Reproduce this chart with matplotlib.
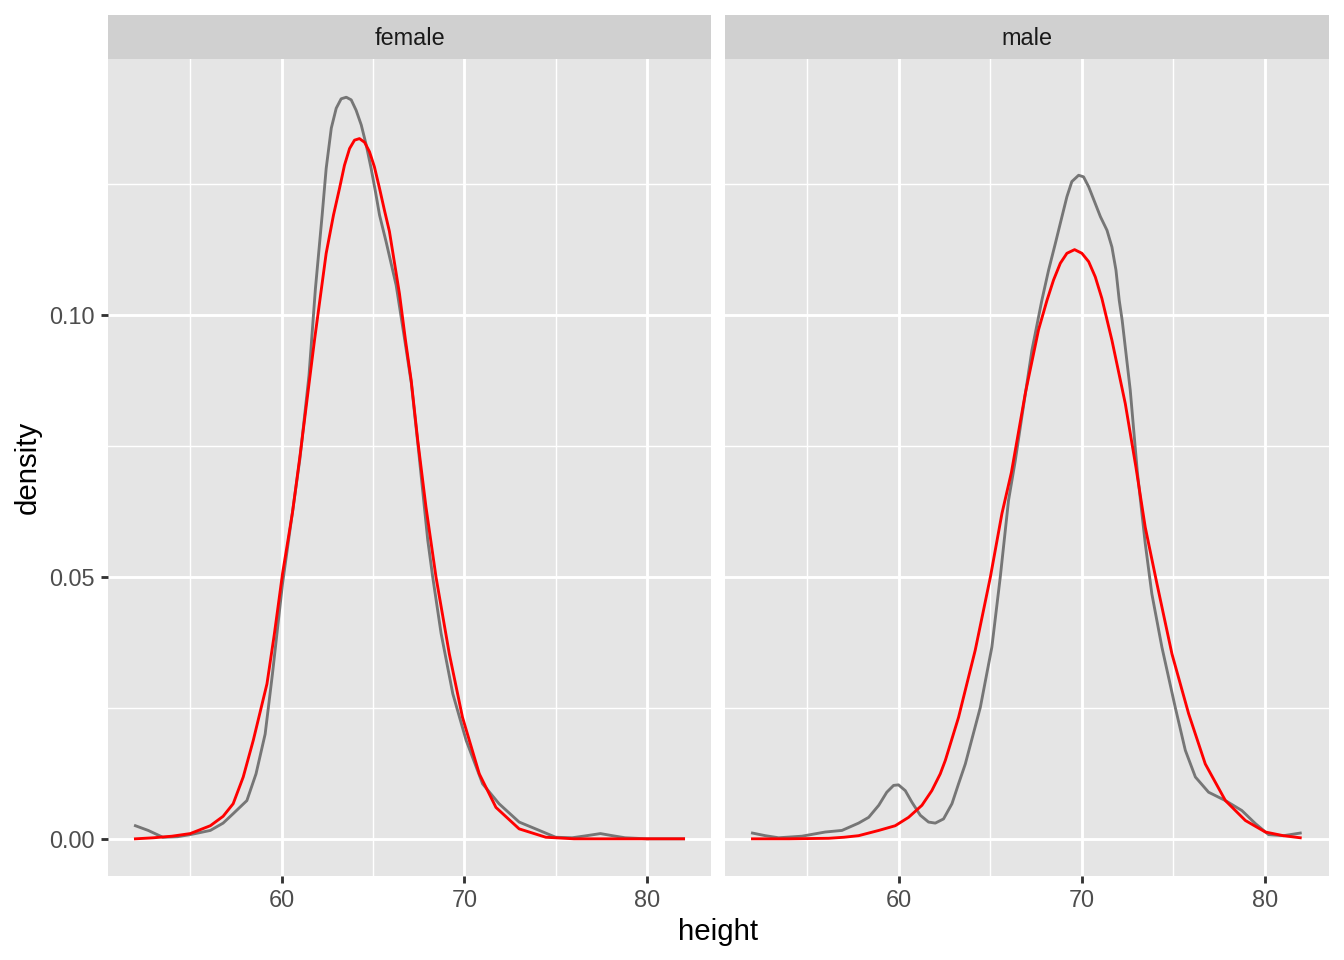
import matplotlib
matplotlib.use("Agg")
import matplotlib.pyplot as plt

plt.rcParams['font.family'] = ['Liberation Sans', 'DejaVu Sans']

# ---------------- data ----------------
panels = ["female", "male"]

female_kde_x = [52.0, 52.7, 53.5, 54.3, 55.0, 56.1, 56.8, 57.35, 58.1, 58.6, 59.1, 59.5,
                60.05, 60.6, 61.0, 61.5, 61.85, 62.22, 62.44, 62.72, 62.99, 63.26, 63.54,
                63.81, 64.08, 64.36, 64.63, 64.90, 65.14, 65.36, 65.72, 66.27, 66.75, 67.1,
                67.5, 68.0, 68.27, 68.73, 69.37, 70.1, 71.0, 71.9, 73.0, 73.9, 75.0, 75.9,
                76.7, 77.45, 78.1, 78.8, 80.0, 81.0, 82.0]
female_kde_y = [0.0025, 0.0016, 0.0003, 0.0004, 0.0008, 0.0016, 0.0030, 0.0048, 0.0073,
                0.0124, 0.0200, 0.0315, 0.0487, 0.0625, 0.0725, 0.0885, 0.1050, 0.1191,
                0.1280, 0.1357, 0.1395, 0.1413, 0.1416, 0.1411, 0.1391, 0.1363, 0.1325,
                0.1280, 0.1235, 0.1191, 0.1140, 0.1057, 0.0950, 0.0870, 0.0740, 0.0570,
                0.0500, 0.0392, 0.0277, 0.0188, 0.0105, 0.0067, 0.0032, 0.0019, 0.0003,
                0.0002, 0.0006, 0.0010, 0.0006, 0.0002, 0.0000, 0.0000, 0.0000]

female_norm_x = [52.0, 53.0, 54.0, 55.0, 56.1, 56.8, 57.35, 57.9, 58.45, 59.2, 59.6, 60.05,
                 60.6, 61.04, 61.8, 62.44, 62.84, 63.17, 63.44, 63.72, 63.99, 64.26, 64.54,
                 64.81, 65.08, 65.36, 65.63, 65.9, 66.45, 66.78, 67.09, 67.45, 67.9, 68.45,
                 69.18, 69.9, 70.82, 71.73, 73.0, 74.46, 76.0, 78.0, 80.0, 82.0]
female_norm_y = [0.0000, 0.0002, 0.0005, 0.0010, 0.0025, 0.0043, 0.0067, 0.0118, 0.0188,
                 0.0296, 0.0390, 0.0506, 0.0624, 0.0740, 0.0952, 0.1118, 0.1191, 0.1242,
                 0.1286, 0.1318, 0.1334, 0.1337, 0.1330, 0.1312, 0.1283, 0.1242, 0.1200,
                 0.1160, 0.1041, 0.0952, 0.0876, 0.0761, 0.0634, 0.0500, 0.0353, 0.0232,
                 0.0124, 0.0060, 0.0019, 0.0003, 0.0000, 0.0000, 0.0000, 0.0000]

male_kde_x = [52.0, 52.7, 53.43, 54.7, 55.98, 56.89, 57.8, 58.35, 58.9, 59.34, 59.71, 59.98,
              60.35, 60.71, 61.17, 61.62, 61.99, 62.44, 62.9, 63.26, 63.63, 64.45, 65.08,
              65.54, 65.99, 66.35, 66.72, 67.27, 67.81, 68.18, 68.55, 68.91, 69.18, 69.45,
              69.82, 70.09, 70.37, 70.73, 71.01, 71.37, 71.64, 71.86, 72.04, 72.2, 72.64,
              73.03, 73.46, 73.82, 74.37, 75.1, 75.65, 76.2, 76.92, 77.84, 78.74, 79.48,
              80.2, 81.02, 81.93]
male_kde_y = [0.0011, 0.0006, 0.0002, 0.0005, 0.0013, 0.0016, 0.0030, 0.0041, 0.0064, 0.0089,
              0.0102, 0.0103, 0.0092, 0.0070, 0.0045, 0.0032, 0.0030, 0.0038, 0.0067, 0.0105,
              0.0143, 0.0251, 0.0366, 0.0500, 0.0646, 0.0720, 0.0806, 0.0933, 0.1028, 0.1086,
              0.1137, 0.1188, 0.1226, 0.1255, 0.1267, 0.1264, 0.1245, 0.1213, 0.1188, 0.1162,
              0.1130, 0.1086, 0.1028, 0.0990, 0.0857, 0.0700, 0.0564, 0.0468, 0.0366, 0.0251,
              0.0169, 0.0118, 0.0089, 0.0073, 0.0054, 0.0029, 0.0008, 0.0006, 0.0011]

male_norm_x = [52.0, 54.0, 56.16, 57.0, 57.8, 58.9, 59.8, 60.53, 61.26, 61.8, 62.26, 62.54,
               63.26, 64.17, 65.0, 65.63, 66.15, 66.91, 67.63, 68.09, 68.45, 68.82, 69.18,
               69.6, 70.0, 70.37, 70.73, 71.09, 71.64, 72.37, 72.95, 73.46, 74.1, 74.92,
               75.83, 76.74, 77.84, 78.93, 80.02, 81.0, 81.93]
male_norm_y = [0.0000, 0.0000, 0.0001, 0.0003, 0.0006, 0.0016, 0.0025, 0.0041, 0.0064, 0.0092,
               0.0124, 0.0150, 0.0232, 0.0360, 0.0500, 0.0621, 0.0700, 0.0851, 0.0972, 0.1028,
               0.1067, 0.1099, 0.1118, 0.1125, 0.1118, 0.1102, 0.1073, 0.1032, 0.0952, 0.0831,
               0.0710, 0.0595, 0.0487, 0.0353, 0.0239, 0.0143, 0.0073, 0.0035, 0.0013, 0.0006,
               0.0002]

x_major = [60, 70, 80]
x_minor = [55, 65, 75]
y_major = [0.00, 0.05, 0.10]
y_minor = [0.025, 0.075, 0.125]
y_labels = ["0.00", "0.05", "0.10"]

kde = {"female": (female_kde_x, female_kde_y), "male": (male_kde_x, male_kde_y)}
norm = {"female": (female_norm_x, female_norm_y), "male": (male_norm_x, male_norm_y)}

# ---------------- layout ----------------
W, H = 1344, 960
fig = plt.figure(figsize=(W / 192, H / 192), dpi=192)
fig.patch.set_facecolor("white")

panel_left = [108, 725]
panel_w = [603, 604]
panel_top, panel_bottom = 59, 876
strip_top = 15

PANEL_BG = "#E5E5E5"
STRIP_BG = "#D0D0D0"

for i, name in enumerate(panels):
    ax = fig.add_axes([panel_left[i] / W, 1 - panel_bottom / H,
                       panel_w[i] / W, (panel_bottom - panel_top) / H])
    ax.set_facecolor(PANEL_BG)
    for s in ax.spines.values():
        s.set_visible(False)
    ax.set_xlim(50.5, 83.5)
    ax.set_ylim(-0.0071, 0.1489)
    ax.set_xticks(x_major)
    ax.set_xticks(x_minor, minor=True)
    ax.set_yticks(y_major)
    ax.set_yticks(y_minor, minor=True)
    ax.grid(which="major", color="white", linewidth=1.07)
    ax.grid(which="minor", color="white", linewidth=0.53)
    ax.set_axisbelow(True)
    ax.tick_params(which="minor", length=0)
    ax.tick_params(which="major", length=2.75, width=1.07, color="#333333",
                   labelsize=8.8, labelcolor="#4D4D4D", pad=2.2)
    ax.set_xticklabels([str(v) for v in x_major])
    if i == 0:
        ax.set_yticklabels(y_labels)
    else:
        ax.tick_params(axis="y", which="both", length=0, labelleft=False)

    kx, ky = kde[name]
    nx, ny = norm[name]
    ax.plot(kx, ky, color="#767676", linewidth=1.07, solid_joinstyle="round")
    ax.plot(nx, ny, color="#FF0000", linewidth=1.07, solid_joinstyle="round")

    # facet strip
    sax = fig.add_axes([panel_left[i] / W, 1 - panel_top / H,
                        panel_w[i] / W, (panel_top - strip_top) / H])
    sax.set_facecolor(STRIP_BG)
    sax.set_xticks([])
    sax.set_yticks([])
    for s in sax.spines.values():
        s.set_visible(False)
    sax.text(0.5, 0.46, name, ha="center", va="center", fontsize=8.8,
             color="#1A1A1A", transform=sax.transAxes)

fig.text(718.5 / W, 1 - 932 / H, "height", ha="center", va="center",
         fontsize=11, color="black")
fig.text(28 / W, 1 - 467.5 / H, "density", ha="center", va="center",
         rotation=90, fontsize=11, color="black")

fig.savefig("out.png", dpi=192, facecolor="white")
